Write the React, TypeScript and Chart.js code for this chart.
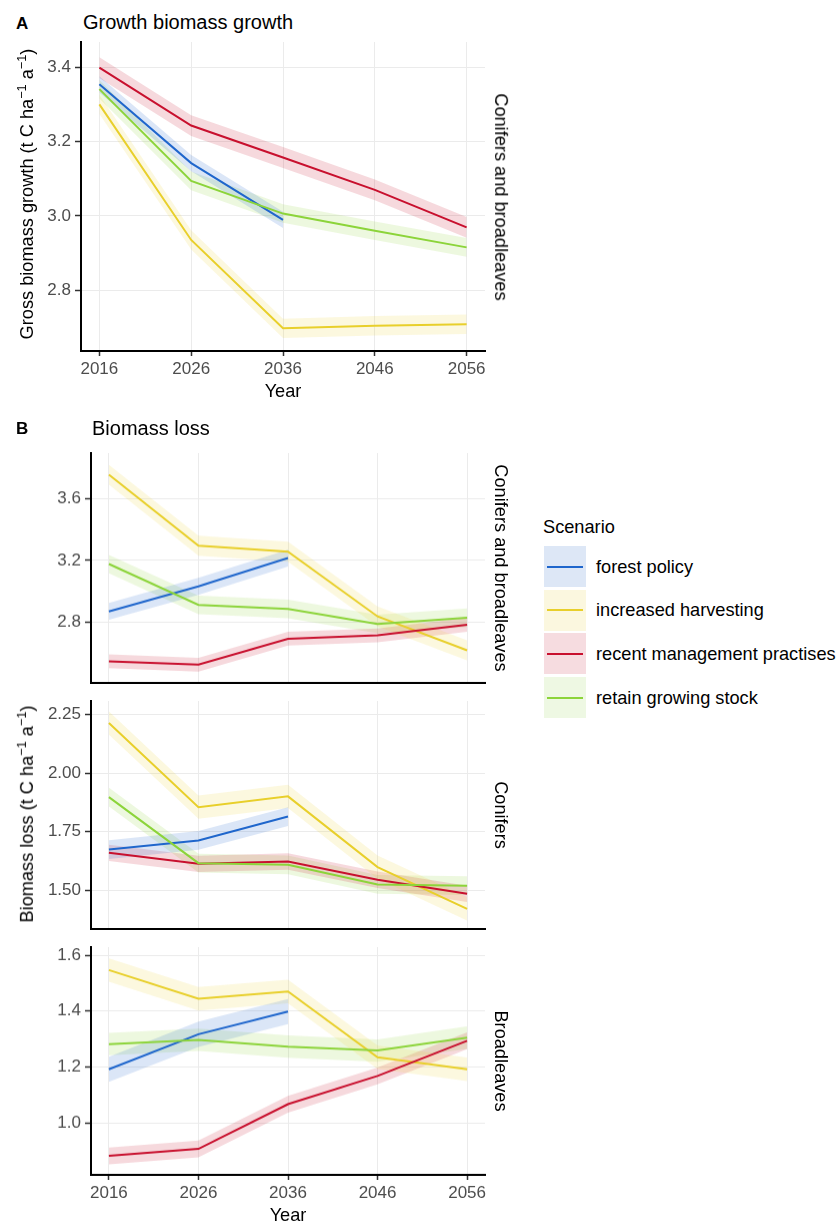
import React, { useEffect, useRef } from "react";
import { Chart, registerables } from "chart.js";

Chart.register(...registerables);

const FONT = "'Liberation Sans', Arial, sans-serif";
const LABEL_SIZE = 18.2;

const years = [2016, 2026, 2036, 2046, 2056];
const scenarios = [
  "forest policy",
  "increased harvesting",
  "recent management practises",
  "retain growing stock",
];
const lineColors = ["#1F66CC", "#E8CF2B", "#C8102E", "#8CD43A"];
const fillColors = [
  "rgba(31,102,204,0.16)",
  "rgba(232,207,43,0.15)",
  "rgba(200,16,46,0.16)",
  "rgba(140,212,58,0.16)",
];
const legendKeyColors = ["#DDE7F6", "#FBF7DF", "#F6DCE0", "#EEF8E3"];

// Panel A: gross biomass growth, conifers and broadleaves
const growthForestPolicy = [3.354, 3.142, 2.989, null, null];
const growthIncreased = [3.3, 2.935, 2.697, 2.704, 2.708];
const growthRecent = [3.399, 3.243, 3.157, 3.07, 2.969];
const growthRetain = [3.341, 3.094, 3.006, 2.96, 2.915];
const growthCI = [0.022, 0.026, 0.028, 0.025];
const growthTicks = [2.8, 3.0, 3.2, 3.4];
const growthTickLabels = ["2.8", "3.0", "3.2", "3.4"];
const growthRange = [2.636, 3.468];

// Panel B1: biomass loss, conifers and broadleaves
const lossAllForestPolicy = [2.869, 3.032, 3.216, null, null];
const lossAllIncreased = [3.758, 3.296, 3.257, 2.836, 2.615];
const lossAllRecent = [2.544, 2.522, 2.691, 2.713, 2.782];
const lossAllRetain = [3.177, 2.911, 2.885, 2.787, 2.828];
const lossAllCI = [0.055, 0.065, 0.045, 0.06];
const lossAllTicks = [2.8, 3.2, 3.6];
const lossAllTickLabels = ["2.8", "3.2", "3.6"];
const lossAllRange = [2.403, 3.899];

// Panel B2: biomass loss, conifers
const lossConForestPolicy = [1.674, 1.713, 1.815, null, null];
const lossConIncreased = [2.214, 1.855, 1.901, 1.599, 1.421];
const lossConRecent = [1.66, 1.613, 1.623, 1.545, 1.485];
const lossConRetain = [1.898, 1.616, 1.609, 1.525, 1.52];
const lossConCI = [0.04, 0.05, 0.035, 0.04];
const lossConTicks = [1.5, 1.75, 2.0, 2.25];
const lossConTickLabels = ["1.50", "1.75", "2.00", "2.25"];
const lossConRange = [1.335, 2.308];

// Panel B3: biomass loss, broadleaves
const lossBroForestPolicy = [1.192, 1.317, 1.398, null, null];
const lossBroIncreased = [1.547, 1.444, 1.47, 1.235, 1.192];
const lossBroRecent = [0.882, 0.907, 1.067, 1.168, 1.294];
const lossBroRetain = [1.282, 1.297, 1.273, 1.259, 1.305];
const lossBroCI = [0.045, 0.042, 0.03, 0.04];
const lossBroTicks = [1.0, 1.2, 1.4, 1.6];
const lossBroTickLabels = ["1.0", "1.2", "1.4", "1.6"];
const lossBroRange = [0.814, 1.629];

type PanelProps = {
  series: (number | null)[][];
  ci: number[];
  ticks: number[];
  tickLabels: string[];
  range: number[];
  plotLeft: number;
  plotTop: number;
  plotBottom: number;
  showX: boolean;
};

const PLOT_RIGHT = 485;
const CANVAS_W = 520;

function Panel(p: PanelProps) {
  const ref = useRef<HTMLCanvasElement>(null);
  const padTop = 15;
  const xAxisH = 34;
  const bottomExtra = p.showX ? xAxisH : 15;
  const H = p.plotBottom - p.plotTop + padTop + bottomExtra;

  useEffect(() => {
    if (!ref.current) return;
    const datasets: any[] = [];
    p.series.forEach((vals, i) => {
      const pts: { x: number; y: number }[] = [];
      years.forEach((x, j) => {
        const v = vals[j];
        if (v !== null && v !== undefined) pts.push({ x, y: v });
      });
      datasets.push({
        data: pts.map((pt) => ({ x: pt.x, y: pt.y + p.ci[i] })),
        borderWidth: 0,
        borderColor: "transparent",
        pointRadius: 0,
        fill: false,
        order: 20,
      });
      datasets.push({
        data: pts.map((pt) => ({ x: pt.x, y: pt.y - p.ci[i] })),
        borderWidth: 0,
        borderColor: "transparent",
        pointRadius: 0,
        fill: "-1",
        backgroundColor: fillColors[i],
        order: 20,
      });
    });
    p.series.forEach((vals, i) => {
      const pts: { x: number; y: number }[] = [];
      years.forEach((x, j) => {
        const v = vals[j];
        if (v !== null && v !== undefined) pts.push({ x, y: v });
      });
      datasets.push({
        data: pts,
        borderColor: lineColors[i],
        borderWidth: 2,
        pointRadius: 0,
        fill: false,
        tension: 0,
        order: 3 - i,
      });
    });

    const chart = new Chart(ref.current, {
      type: "line",
      data: { datasets },
      options: {
        animation: false,
        responsive: false,
        devicePixelRatio: 1,
        events: [],
        layout: {
          padding: {
            left: 0,
            right: CANVAS_W - PLOT_RIGHT,
            top: padTop,
            bottom: p.showX ? 0 : bottomExtra,
          },
        },
        plugins: {
          legend: { display: false },
          tooltip: { enabled: false },
          title: { display: false },
          filler: { drawTime: "beforeDatasetsDraw" },
        } as any,
        scales: {
          x: {
            type: "linear",
            min: 2014,
            max: 2058,
            afterBuildTicks: (a: any) => {
              a.ticks = years.map((v) => ({ value: v }));
            },
            afterFit: (s: any) => {
              s.height = p.showX ? xAxisH : 0;
            },
            grid: {
              color: "#EBEBEB",
              lineWidth: 1,
              drawTicks: p.showX,
              tickLength: 5,
              tickColor: "#333333",
              tickWidth: 1.5,
            },
            border: { display: true, color: "#000000", width: 2 },
            ticks: {
              display: p.showX,
              autoSkip: false,
              maxRotation: 0,
              padding: 3,
              color: "#4D4D4D",
              font: { family: FONT, size: 17 },
              callback: (v: any) => String(v),
            },
          },
          y: {
            type: "linear",
            min: p.range[0],
            max: p.range[1],
            afterBuildTicks: (a: any) => {
              a.ticks = p.ticks.map((v) => ({ value: v }));
            },
            afterFit: (s: any) => {
              s.width = p.plotLeft;
            },
            grid: {
              color: "#EBEBEB",
              lineWidth: 1,
              drawTicks: true,
              tickLength: 6,
              tickColor: "#333333",
              tickWidth: 1.5,
            },
            border: { display: true, color: "#000000", width: 2 },
            ticks: {
              padding: 4,
              color: "#4D4D4D",
              font: { family: FONT, size: 17 },
              callback: (_v: any, idx: number) => p.tickLabels[idx],
            },
          },
        },
      } as any,
    });
    return () => chart.destroy();
  }, []);

  return (
    <canvas
      ref={ref}
      width={CANVAS_W}
      height={H}
      style={{
        position: "absolute",
        left: 0,
        top: p.plotTop - padTop,
        width: CANVAS_W,
        height: H,
      }}
    />
  );
}

function Txt(props: {
  x: number;
  y: number;
  rot?: number;
  size?: number;
  bold?: boolean;
  start?: boolean;
  color?: string;
  children: any;
}) {
  const { x, y, rot = 0, size = LABEL_SIZE, bold = false, start = false, color = "#000" } = props;
  return (
    <div
      style={{
        position: "absolute",
        left: x,
        top: y,
        transform: `translate(${start ? "0" : "-50%"},-50%) rotate(${rot}deg)`,
        whiteSpace: "nowrap",
        fontSize: size,
        lineHeight: 1,
        fontWeight: bold ? "bold" : "normal",
        color,
        fontFamily: FONT,
      }}
    >
      {props.children}
    </div>
  );
}

const supStyle: React.CSSProperties = {
  fontSize: "0.7em",
  lineHeight: 0,
  verticalAlign: "0.55em",
};

function Legend() {
  const rowTops = [546, 589.5, 633, 677];
  return (
    <>
      <Txt x={543} y={527} start>
        Scenario
      </Txt>
      {scenarios.map((s, i) => (
        <React.Fragment key={s}>
          <div
            style={{
              position: "absolute",
              left: 544,
              top: rowTops[i],
              width: 42,
              height: 41,
              background: legendKeyColors[i],
            }}
          />
          <div
            style={{
              position: "absolute",
              left: 547,
              top: rowTops[i] + 19.5,
              width: 36,
              height: 2,
              background: lineColors[i],
            }}
          />
          <Txt x={596} y={rowTops[i] + 20.5} start>
            {s}
          </Txt>
        </React.Fragment>
      ))}
    </>
  );
}

export default function App() {
  return (
    <div
      style={{
        position: "absolute",
        left: 0,
        top: 0,
        width: 837,
        height: 1223,
        background: "#fff",
        overflow: "hidden",
        fontFamily: FONT,
      }}
    >
      <Txt x={16} y={22.5} size={17} bold start>
        A
      </Txt>
      <Txt x={83} y={21.7} size={20} start>
        Growth biomass growth
      </Txt>
      <Panel
        series={[growthForestPolicy, growthIncreased, growthRecent, growthRetain]}
        ci={growthCI}
        ticks={growthTicks}
        tickLabels={growthTickLabels}
        range={growthRange}
        plotLeft={81}
        plotTop={42}
        plotBottom={351}
        showX={true}
      />
      <Txt x={27} y={193.5} rot={-90}>
        Gross biomass growth (t C ha<sup style={supStyle}>−1</sup> a<sup style={supStyle}>−1</sup>)
      </Txt>
      <Txt x={501} y={196.5} rot={90}>
        Conifers and broadleaves
      </Txt>
      <Txt x={283} y={391}>
        Year
      </Txt>

      <Txt x={16} y={428.3} size={17} bold start>
        B
      </Txt>
      <Txt x={92} y={428.3} size={20} start>
        Biomass loss
      </Txt>
      <Panel
        series={[lossAllForestPolicy, lossAllIncreased, lossAllRecent, lossAllRetain]}
        ci={lossAllCI}
        ticks={lossAllTicks}
        tickLabels={lossAllTickLabels}
        range={lossAllRange}
        plotLeft={91}
        plotTop={453.3}
        plotBottom={683.3}
        showX={false}
      />
      <Panel
        series={[lossConForestPolicy, lossConIncreased, lossConRecent, lossConRetain]}
        ci={lossConCI}
        ticks={lossConTicks}
        tickLabels={lossConTickLabels}
        range={lossConRange}
        plotLeft={91}
        plotTop={700.7}
        plotBottom={929}
        showX={false}
      />
      <Panel
        series={[lossBroForestPolicy, lossBroIncreased, lossBroRecent, lossBroRetain]}
        ci={lossBroCI}
        ticks={lossBroTicks}
        tickLabels={lossBroTickLabels}
        range={lossBroRange}
        plotLeft={91}
        plotTop={947.3}
        plotBottom={1175}
        showX={true}
      />
      <Txt x={27} y={814} rot={-90}>
        Biomass loss (t C ha<sup style={supStyle}>−1</sup> a<sup style={supStyle}>−1</sup>)
      </Txt>
      <Txt x={501} y={568.3} rot={90}>
        Conifers and broadleaves
      </Txt>
      <Txt x={501} y={815} rot={90}>
        Conifers
      </Txt>
      <Txt x={501} y={1061} rot={90}>
        Broadleaves
      </Txt>
      <Txt x={288} y={1215}>
        Year
      </Txt>
      <Legend />
    </div>
  );
}
